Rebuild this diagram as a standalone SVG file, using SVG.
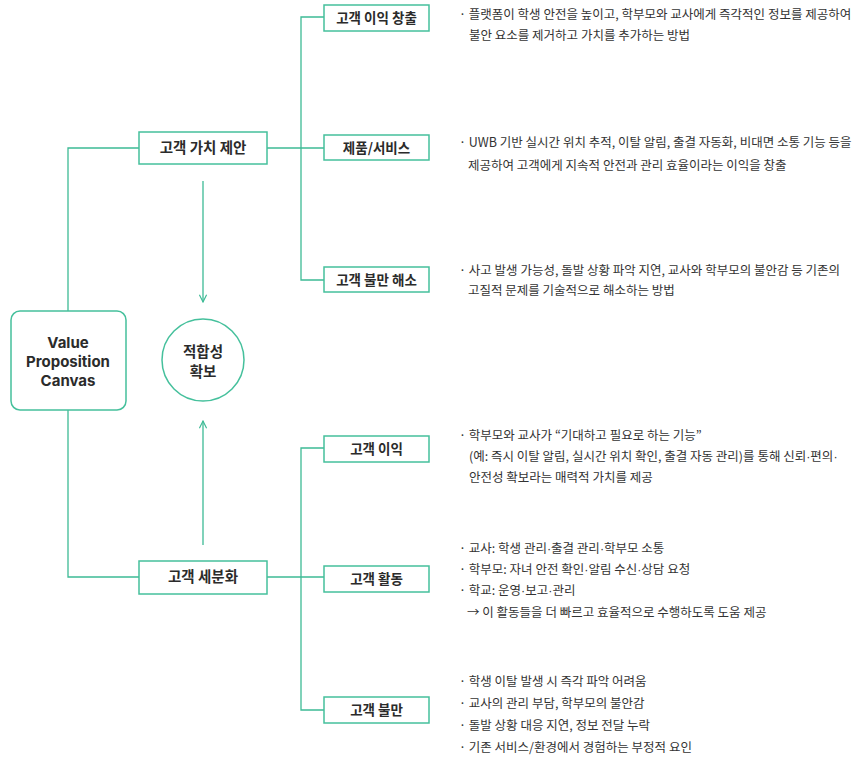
<svg xmlns="http://www.w3.org/2000/svg" width="859" height="758" viewBox="0 0 859 758">
<defs>
<style>
.box{fill:#fff;stroke:#45c09c;stroke-width:1.5}
.ln{fill:none;stroke:#3dba95;stroke-width:1.3}
.lbl{font-family:"Noto Sans CJK KR","Noto Sans",sans-serif;font-weight:700;font-size:13.5px;fill:#2b2b2b;text-anchor:middle}
.big{font-size:14.5px}
.vpc{font-family:Inter,"Noto Sans","Noto Sans CJK KR",sans-serif;font-weight:700;font-size:15px;fill:#2b2b2b;text-anchor:middle}
.ds{font-family:"Noto Sans CJK KR","Noto Sans",sans-serif;font-size:12.5px;fill:#333}
.d{font-family:"Liberation Sans",sans-serif}
</style>
<marker id="ah" viewBox="0 0 10 10" refX="9" refY="5" markerWidth="9" markerHeight="9" markerUnits="userSpaceOnUse" orient="auto">
<path d="M1,1 L9,5 L1,9" fill="none" stroke="#3dba95" stroke-width="1.3"/>
</marker>
</defs>
<rect width="859" height="758" fill="#fff"/>
<g id="connectors">
<path class="ln" d="M68,311 V148 H139"/>
<path class="ln" d="M68,410 V577 H139"/>
<path class="ln" d="M267,148 H324"/>
<path class="ln" d="M324,17 H301 V280 H324"/>
<path class="ln" d="M267,577 H324"/>
<path class="ln" d="M324,448 H301 V710 H324"/>
<path class="ln" d="M203,181 V302" marker-end="url(#ah)"/>
<path class="ln" d="M203,545 V421" marker-end="url(#ah)"/>
</g>
<g id="vpc">
<rect class="box" x="11" y="311" width="115" height="99" rx="9"/>
<text class="vpc" x="68" y="348">Value</text>
<text class="vpc" x="68" y="367">Proposition</text>
<text class="vpc" x="68" y="386">Canvas</text>
</g>
<g id="fit">
<circle class="box" cx="203" cy="360" r="41"/>
<text class="lbl big" x="203" y="357">적합성</text>
<text class="lbl big" x="203" y="377">확보</text>
</g>
<g id="value-proposition">
<rect class="box" x="139" y="132" width="128" height="32"/>
<text class="lbl big" x="203" y="153">고객 가치 제안</text>
</g>
<g id="segment">
<rect class="box" x="139" y="561" width="128" height="33"/>
<text class="lbl big" x="203" y="582">고객 세분화</text>
</g>
<g id="gain-creators">
<rect class="box" x="324" y="5" width="105" height="26"/>
<text class="lbl" x="376.5" y="23">고객 이익 창출</text>
<text class="ds" x="459" y="18.5">· 플랫폼이 학생 안전을 높이고, 학부모와 교사에게 즉각적인 정보를 제공하여</text>
<text class="ds" x="469" y="39.5">불안 요소를 제거하고 가치를 추가하는 방법</text>
</g>
<g id="products">
<rect class="box" x="324" y="135" width="105" height="25"/>
<text class="lbl" x="376.5" y="152.5">제품/서비스</text>
<text class="ds" x="459" y="146.5">· UWB 기반 실시간 위치 추적, 이탈 알림, 출결 자동화, 비대면 소통 기능 등을</text>
<text class="ds" x="468" y="169.5">제공하여 고객에게 지속적 안전과 관리 효율이라는 이익을 창출</text>
</g>
<g id="pain-relievers">
<rect class="box" x="324" y="267" width="105" height="25"/>
<text class="lbl" x="376.5" y="284.5">고객 불만 해소</text>
<text class="ds" x="459" y="274.5">· 사고 발생 가능성, 돌발 상황 파악 지연, 교사와 학부모의 불안감 등 기존의</text>
<text class="ds" x="468" y="294.5">고질적 문제를 기술적으로 해소하는 방법</text>
</g>
<g id="gains">
<rect class="box" x="324" y="436" width="105" height="26"/>
<text class="lbl" x="376.5" y="454">고객 이익</text>
<text class="ds" x="459" y="439.5">· 학부모와 교사가 “기대하고 필요로 하는 기능”</text>
<text class="ds" x="469" y="460.5">(예: 즉시 이탈 알림, 실시간 위치 확인, 출결 자동 관리)를 통해 신뢰<tspan class="d">·</tspan>편의<tspan class="d">·</tspan></text>
<text class="ds" x="469" y="481.5">안전성 확보라는 매력적 가치를 제공</text>
</g>
<g id="jobs">
<rect class="box" x="324" y="566" width="105" height="26"/>
<text class="lbl" x="376.5" y="584">고객 활동</text>
<text class="ds" x="459" y="552.5">· 교사: 학생 관리<tspan class="d">·</tspan>출결 관리<tspan class="d">·</tspan>학부모 소통</text>
<text class="ds" x="459" y="573.5">· 학부모: 자녀 안전 확인<tspan class="d">·</tspan>알림 수신<tspan class="d">·</tspan>상담 요청</text>
<text class="ds" x="459" y="594.5">· 학교: 운영<tspan class="d">·</tspan>보고<tspan class="d">·</tspan>관리</text>
<text class="ds" x="467" y="616.5">→ 이 활동들을 더 빠르고 효율적으로 수행하도록 도움 제공</text>
</g>
<g id="pains">
<rect class="box" x="324" y="697" width="105" height="26"/>
<text class="lbl" x="376.5" y="715">고객 불만</text>
<text class="ds" x="459" y="685.5">· 학생 이탈 발생 시 즉각 파악 어려움</text>
<text class="ds" x="459" y="707.5">· 교사의 관리 부담, 학부모의 불안감</text>
<text class="ds" x="459" y="729.5">· 돌발 상황 대응 지연, 정보 전달 누락</text>
<text class="ds" x="459" y="751.5">· 기존 서비스/환경에서 경험하는 부정적 요인</text>
</g>
</svg>
